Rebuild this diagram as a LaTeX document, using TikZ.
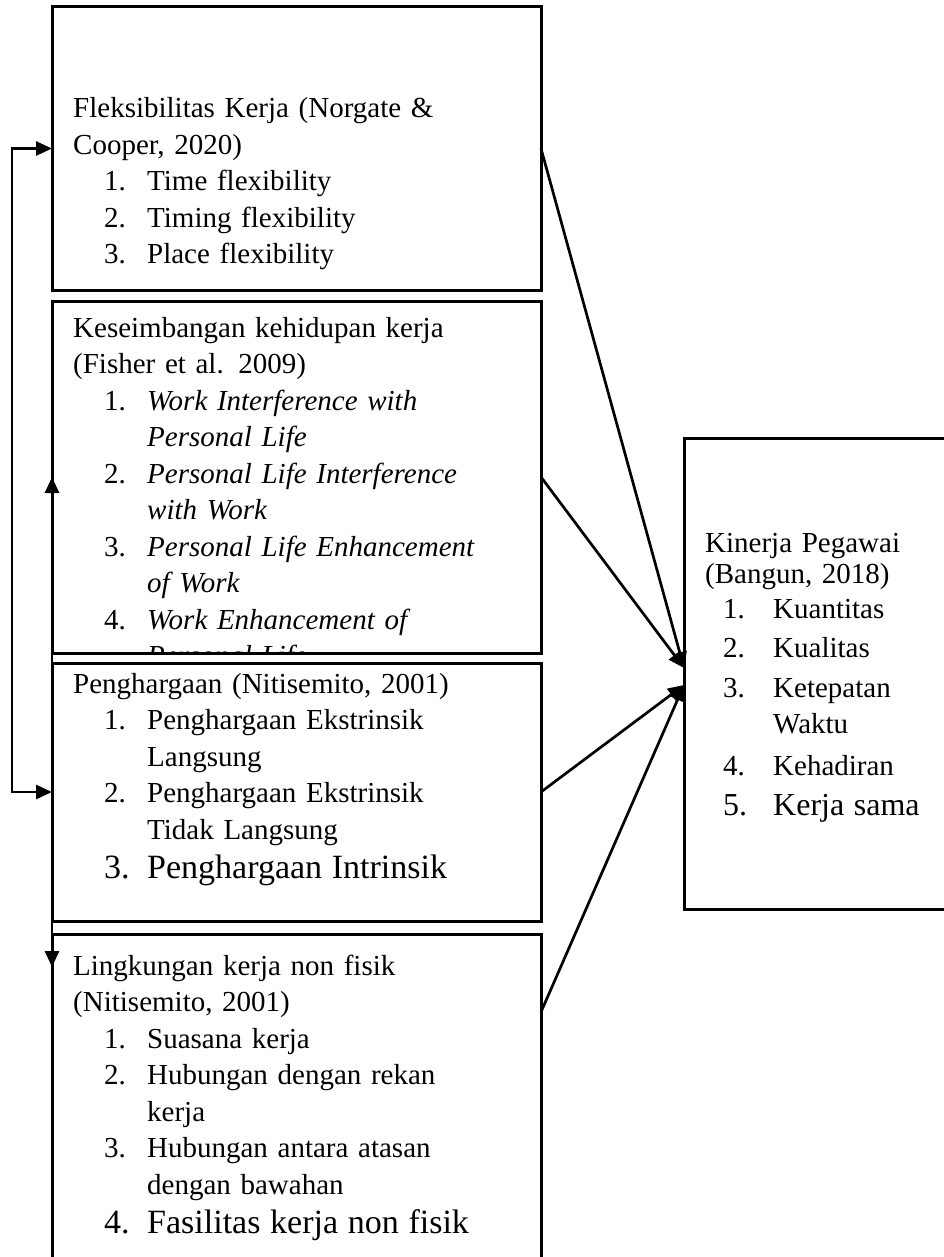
\documentclass[tikz,border=0pt]{standalone}
\usepackage{fontspec}
\setmainfont{Liberation Serif}
\usetikzlibrary{arrows.meta}
\tikzset{kotak/.style={draw, line width=3pt, inner sep=0pt, outer sep=0pt},
 teks/.style={inner sep=0pt, text width=480pt, align=left, font=\fontsize{29}{36.5}\selectfont},
 panah/.style={line width=2.7pt, -{Triangle[length=16pt,width=14pt]}},
 duapanah/.style={line width=2.7pt, {Triangle[length=16pt,width=14pt]}-{Triangle[length=16pt,width=14pt]}},
}
\newcommand{\butir}[2]{\hspace*{31pt}\makebox[43pt][l]{#1}#2}
\newcommand{\lanjut}[1]{\hspace*{74pt}#1}
\newcommand{\butirk}[2]{\hspace*{18pt}\makebox[50pt][l]{#1}#2}
\newcommand{\besar}{\fontsize{34}{36.5}\selectfont}

\begin{document}
\begin{tikzpicture}[x=1pt,y=-1pt]
    \useasboundingbox (0,0) rectangle (944,1257);
    \clip (0,0) rectangle (944,1257);

    \node[kotak, minimum width=489pt, minimum height=283pt] (fleks) at (296.5,148.5) {};
    \node[kotak, minimum width=489pt, minimum height=352pt] (kerja) at (296.5,477) {};
    \node[kotak, minimum width=489pt, minimum height=258pt] (hargaan) at (296.5,792) {};
    \node[kotak, minimum width=489pt, minimum height=366pt] (lingkungan) at (296.5,1117) {};
    \node[kotak, minimum width=286pt, minimum height=471pt] (kinerja) at (827,673.5) {};

    \node[teks, anchor=base west] (teksfleks) at (73,118) {Fleksibilitas Kerja (Norgate \&\\
        Cooper, 2020)\\
        \butir{1.}{Time flexibility}\\
        \butir{2.}{Timing flexibility}\\
        \butir{3.}{Place flexibility}};
    \begin{scope}
        \clip (kerja.south west) rectangle (kerja.north east);
        \node[teks, anchor=base west] (tekskerja) at (73,337) {Keseimbangan kehidupan kerja\\
            (Fisher et al. 2009)\\
            \butir{1.}{\textit{Work Interference with}}\\
            \lanjut{\textit{Personal Life}}\\
            \butir{2.}{\textit{Personal Life Interference}}\\
            \lanjut{\textit{with Work}}\\
            \butir{3.}{\textit{Personal Life Enhancement}}\\
            \lanjut{\textit{of Work}}\\
            \butir{4.}{\textit{Work Enhancement of}}\\
            \lanjut{\textit{Personal Life}}};
    \end{scope}
    \node[teks, anchor=base west] (tekshargaan) at (73,693) {Penghargaan (Nitisemito, 2001)\\
        \butir{1.}{Penghargaan Ekstrinsik}\\
        \lanjut{Langsung}\\
        \butir{2.}{Penghargaan Ekstrinsik}\\
        \lanjut{Tidak Langsung}\\[2.5pt]
        {\besar\butir{3.}{Penghargaan Intrinsik}}};
    \node[teks, anchor=base west] (tekslingkungan) at (73,975) {Lingkungan kerja non fisik\\
        (Nitisemito, 2001)\\
        \butir{1.}{Suasana kerja}\\
        \butir{2.}{Hubungan dengan rekan}\\
        \lanjut{kerja}\\
        \butir{3.}{Hubungan antara atasan}\\
        \lanjut{dengan bawahan}\\[2.5pt]
        {\besar\butir{4.}{Fasilitas kerja non fisik}}};
    \node[teks, anchor=base west, text width=240pt] (tekskinerja) at (705,552) {Kinerja Pegawai\\[-5.5pt]
        (Bangun, 2018)\\[-1.5pt]
        \butirk{1.}{Kuantitas}\\[2.5pt]
        \butirk{2.}{Kualitas}\\[3.5pt]
        \butirk{3.}{Ketepatan}\\[-0.5pt]
        \hspace*{68pt}Waktu\\[5.5pt]
        \butirk{4.}{Kehadiran}\\[3.5pt]
        {\fontsize{32}{36.5}\selectfont\butirk{5.}{Kerja sama}}};

    \coordinate (bawah) at ([yshift=-33pt]lingkungan.north west);
    \coordinate (lingkanan) at ([yshift=-78pt]lingkungan.north east);
    \draw[duapanah] (fleks.west) -- ++(-40,0) |- (hargaan.west);
    \draw[duapanah] (kerja.west) -- (bawah);
    \foreach \asal/\geser in {fleks.east/5.5, kerja.east/5.5, hargaan.east/-11.5, lingkanan/-11.5}
        \draw[panah] (\asal) -- ([yshift=\geser pt]kinerja.west);
\end{tikzpicture}
\end{document}
